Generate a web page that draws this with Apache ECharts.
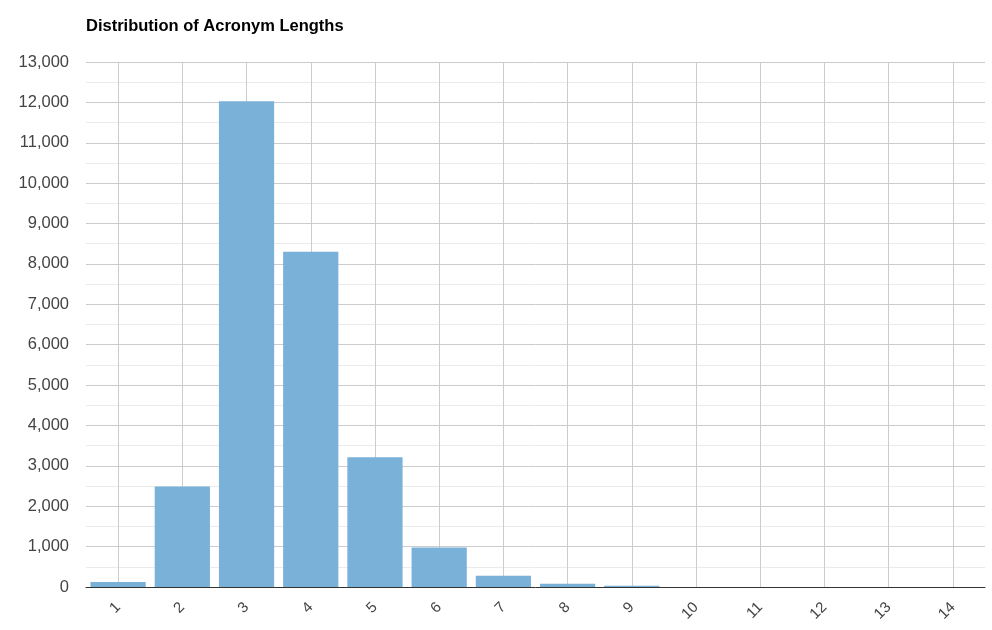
<!DOCTYPE html>
<html>
<head>
<meta charset="utf-8">
<script src="https://cdn.jsdelivr.net/npm/echarts@6/dist/echarts.min.js"></script>
<style>
  html, body { margin: 0; padding: 0; background: #fff; }
  #chart { width: 992px; height: 630px; }
</style>
</head>
<body>
<div id="chart"></div>
<script>
var lengths = ['1', '2', '3', '4', '5', '6', '7', '8', '9', '10', '11', '12', '13', '14'];
var counts = [125, 2490, 12030, 8300, 3210, 980, 280, 80, 28, 0, 0, 0, 0, 0];

var chart = echarts.init(document.getElementById('chart'));
var option = {
    animation: false,
    title: {
        text: 'Distribution of Acronym Lengths',
        left: 81,
        top: 13,
        textStyle: {
            fontFamily: 'Liberation Sans, Arial, sans-serif',
            fontSize: 16.5,
            fontWeight: 'bold',
            color: '#000'
        }
    },
    grid: {
        left: 86,
        right: 7,
        top: 62,
        bottom: 43,
        containLabel: false
    },
    xAxis: {
        type: 'category',
        data: lengths,
        axisLine: { lineStyle: { color: '#333', width: 1 } },
        axisTick: { show: false },
        splitLine: { show: true, alignWithLabel: true, lineStyle: { color: '#ccc' } },
        axisLabel: {
            rotate: 45,
            margin: 18,
            fontFamily: 'Liberation Sans, Arial, sans-serif',
            fontSize: 15,
            color: '#444'
        }
    },
    yAxis: {
        type: 'value',
        min: 0,
        max: 13000,
        interval: 1000,
        axisLine: { show: false },
        axisTick: { show: false },
        axisLabel: {
            margin: 17,
            fontFamily: 'Liberation Sans, Arial, sans-serif',
            fontSize: 16.5,
            color: '#444',
            formatter: function (v) { return v.toLocaleString('en-US'); }
        },
        splitLine: { lineStyle: { color: '#ccc' } },
        minorTick: { show: false, splitNumber: 2 },
        minorSplitLine: { show: true, lineStyle: { color: '#ebebeb' } }
    },
    series: [{
        type: 'bar',
        data: counts,
        barCategoryGap: '14%',
        itemStyle: { color: '#7ab1d9' }
    }]
};
chart.setOption(option);
</script>
</body>
</html>
